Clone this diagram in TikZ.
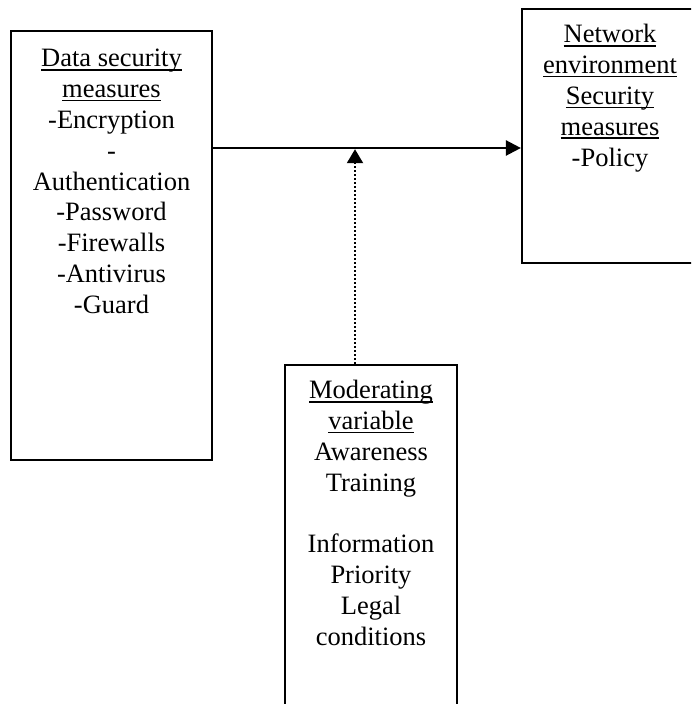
\documentclass[tikz,border=0pt]{standalone}
\usepackage{fontspec}
\setmainfont{Liberation Serif}
\usetikzlibrary{arrows.meta}
% underline at a fixed depth below the baseline (crosses descenders)
\newcommand\ulx[1]{\setbox0\hbox{#1}\rlap{\rule[-3.6pt]{\wd0}{1.6pt}}\box0}
\begin{document}
\begin{tikzpicture}[x=1pt,y=1pt,
  panel/.style={draw=black, line width=2.2pt, inner sep=0pt},
  label/.style={font=\fontsize{26.5}{30.8}\selectfont, align=center, anchor=base, inner sep=0pt},
  mainlink/.style={line width=2.4pt, -{Triangle[length=15pt,width=15pt]}},
  modlink/.style={line width=2pt, dash pattern=on 2pt off 2pt, -{Triangle[length=14pt,width=16pt]}, shorten >=1.2pt}]
\useasboundingbox (0,0) rectangle (691,704);
\clip (0,0) rectangle (691,704);
% panels
\node[panel, minimum width=201pt, minimum height=429pt] (ds) at (111.5,458.5) {};
\node[panel, minimum width=180pt, minimum height=254pt] (ne) at (612,568) {};
\node[panel, minimum width=172pt, minimum height=350pt] (mv) at (371,164) {};
% texts (anchored at the baseline of their last line)
\node[label] (dstxt) at (111.5,390.6) {\ulx{Data security}\\ \ulx{measures}\\ -Encryption\\ -\\ Authentication\\ -Password\\ -Firewalls\\ -Antivirus\\ -Guard};
\node[label] (netxt) at (610,537.8) {\ulx{Network}\\ \ulx{environment}\\ \ulx{Security}\\ \ulx{measures}\\ -Policy};
\node[label] (mvtxt) at (371,58.6) {\ulx{Moderating}\\ \ulx{variable}\\ Awareness\\ Training\\ \strut\\ Information\\ Priority\\ Legal\\ conditions};
% connectors
\coordinate (j) at (355,556);
\draw[mainlink] (j -| ds.east) -- (j -| ne.west);
\draw[modlink] (mv.north -| j) -- (j);
\end{tikzpicture}
\end{document}
